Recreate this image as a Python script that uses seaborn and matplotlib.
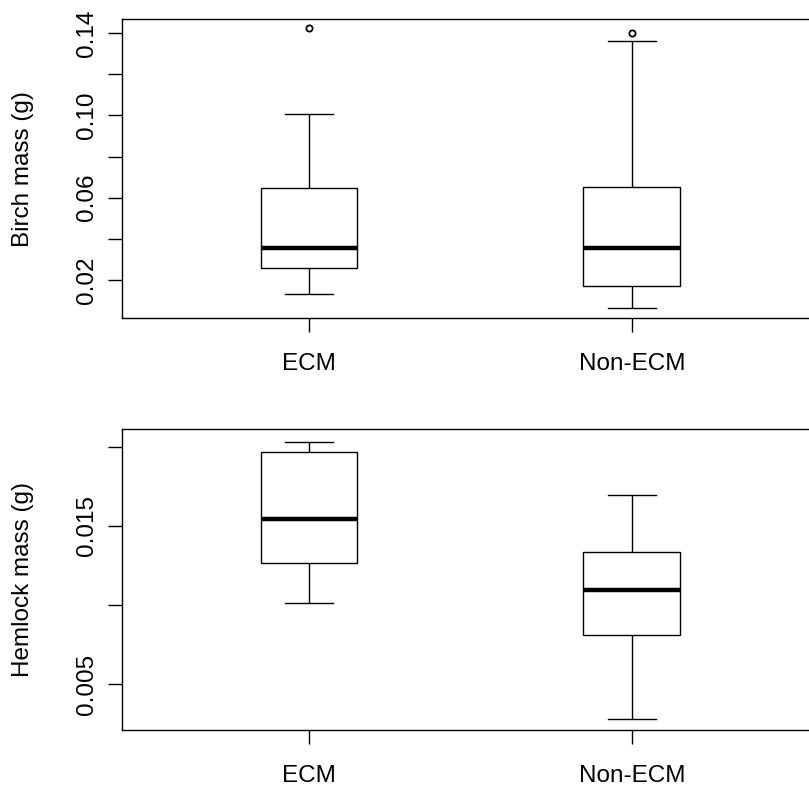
import numpy as np
import pandas as pd
import seaborn as sns
import matplotlib
matplotlib.use("Agg")
import matplotlib.pyplot as plt

# groups on the x axis
groups = ["ECM", "Non-ECM"]

# birch seedling mass (g)
birch_ecm = [0.0132, 0.0215, 0.0260, 0.0310, 0.0356, 0.0480, 0.0647, 0.1005, 0.1423]
birch_non = [0.0066, 0.0120, 0.0171, 0.0260, 0.0356, 0.0500, 0.0653, 0.1363, 0.1400]

# hemlock seedling mass (g)
hemlock_ecm = [0.01014, 0.01150, 0.01268, 0.01400, 0.01542, 0.01750, 0.01967, 0.02000, 0.02034]
hemlock_non = [0.00276, 0.00600, 0.00810, 0.00950, 0.01093, 0.01200, 0.01337, 0.01500, 0.01696]

birch_ticks = [0.02, 0.04, 0.06, 0.08, 0.10, 0.12, 0.14]
birch_labels = ["0.02", "", "0.06", "", "0.10", "", "0.14"]
hemlock_ticks = [0.005, 0.010, 0.015, 0.020]
hemlock_labels = ["0.005", "", "0.015", ""]

plt.rcParams["font.family"] = ["Liberation Sans", "DejaVu Sans"]
plt.rcParams["font.size"] = 17.5

fig = plt.figure(figsize=(8.09, 7.95), dpi=100)
ax1 = fig.add_axes([0.1506, 0.5996, 0.8617, 0.3761])
ax2 = fig.add_axes([0.1506, 0.0818, 0.8617, 0.3786])


def make_df(a, b):
    return pd.DataFrame({"group": [groups[0]] * len(a) + [groups[1]] * len(b),
                         "mass": list(a) + list(b)})


def draw(ax, df, ylim, ticks, labels, ylabel):
    sns.boxplot(data=df, x="group", y="mass", order=groups, ax=ax,
                color="white", linecolor="black", linewidth=1.0, width=0.3,
                medianprops=dict(linewidth=3.2, color="black"),
                flierprops=dict(marker="o", markersize=4.5, markerfacecolor="white",
                                markeredgecolor="black", markeredgewidth=1.3))
    ax.set_xlim(-0.58, 1.58)
    ax.set_ylim(*ylim)
    ax.set_yticks(ticks)
    ax.set_yticklabels(labels, rotation=90, va="center")
    ax.set_xlabel("")
    ax.set_ylabel(ylabel)
    ax.yaxis.set_label_coords(-0.126, 0.5)
    ax.tick_params(axis="y", length=10, width=1.0, pad=7)
    ax.tick_params(axis="x", length=10, width=1.0, pad=15)
    for s in ax.spines.values():
        s.set_linewidth(1.0)
        s.set_color("black")


draw(ax1, make_df(birch_ecm, birch_non), (0.00139, 0.14666),
     birch_ticks, birch_labels, "Birch mass (g)")
draw(ax2, make_df(hemlock_ecm, hemlock_non), (0.00209, 0.02114),
     hemlock_ticks, hemlock_labels, "Hemlock mass (g)")

fig.savefig("out.png", dpi=100)
